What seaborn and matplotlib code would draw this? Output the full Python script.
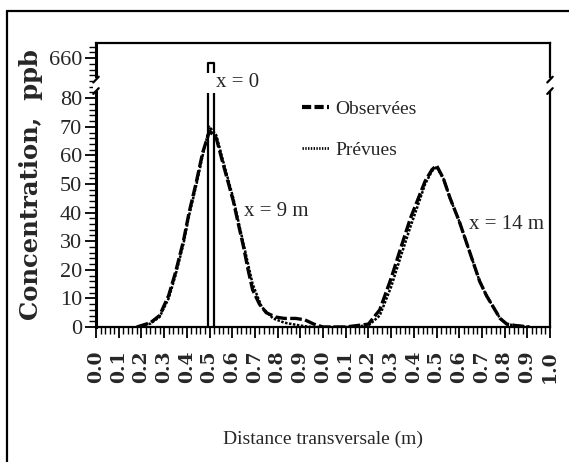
import numpy as np
import pandas as pd
import matplotlib
matplotlib.use("Agg")
import matplotlib.pyplot as plt
from matplotlib.lines import Line2D
from matplotlib.patches import Rectangle
from matplotlib.ticker import FixedLocator, MultipleLocator
import seaborn as sns

# ---------------- data ----------------
# position along the combined axis (1 unit = 0.1 m; 0-10 first panel, 10-20 second)
obs_x = [1.8, 2.4, 2.8, 3.2, 3.5, 3.85, 4.1, 4.4, 4.7, 5.0, 5.3, 5.6, 6.05, 6.3, 6.5, 6.7,
         6.9, 7.2, 7.5, 7.9, 8.3, 8.8, 9.2, 9.6, 10.0, 11.0, 11.5, 12.0, 12.5, 13.0, 13.4,
         13.85, 14.2, 14.5, 14.8, 15.0, 15.3, 15.6, 16.0, 16.3, 16.6, 16.9, 17.2, 17.5,
         17.8, 18.1, 18.5, 19.1]
obs_y = [0, 1.5, 4, 11, 19, 30, 40, 50, 61, 68.5, 66, 57, 44, 35, 28, 20,
         13, 8, 5, 3.5, 3, 3, 2.5, 1, 0, 0, 0.5, 1, 6, 17, 27,
         38, 45, 51, 55, 56.5, 52, 45, 37, 30, 23, 16, 11, 7,
         3, 1, 0.5, 0]
pred_x = [1.8, 2.4, 2.8, 3.2, 3.5, 3.85, 4.1, 4.4, 4.7, 5.0, 5.3, 5.6, 6.05, 6.3, 6.5, 6.7,
          6.9, 7.3, 7.8, 8.3, 9.0, 9.5, 10.0, 11.0, 12.0, 12.5, 13.0, 13.4, 13.85, 14.2,
          14.5, 14.8, 15.0, 15.3, 15.6, 16.0, 16.3, 16.6, 16.9, 17.2, 17.5, 17.8, 18.1,
          18.5, 19.1]
pred_y = [0, 1.2, 3.5, 10, 18, 29, 39, 49, 60, 70, 67, 58, 45, 36, 29, 22,
          15, 7, 3, 1.5, 0.5, 0, 0, 0, 0.5, 4, 14, 24, 35, 43,
          50, 54.5, 56, 52, 45, 37, 30, 23, 16, 11, 7, 3, 1,
          0.5, 0]
pulse_x = [4.93, 4.93, 5.22, 5.22]
pulse_y = [0, 92.3, 92.3, 0]

x_ticks = list(range(21))
x_labels = ["0.0", "0.1", "0.2", "0.3", "0.4", "0.5", "0.6", "0.7", "0.8", "0.9",
            "0.0", "0.1", "0.2", "0.3", "0.4", "0.5", "0.6", "0.7", "0.8", "0.9", "1.0"]
y_ticks = [0, 10, 20, 30, 40, 50, 60, 70, 80, 94]
y_labels = ["0", "10", "20", "30", "40", "50", "60", "70", "80", "660"]

# ---------------- style ----------------
sns.set_style("ticks")
plt.rcParams["font.family"] = ["Liberation Serif", "DejaVu Serif"]

fig = plt.figure(figsize=(5.69, 4.62), dpi=100)
ax = fig.add_axes([96 / 569, 1 - 327 / 462, (550 - 96) / 569, (327 - 43) / 462])

df_obs = pd.DataFrame({"x": obs_x, "y": obs_y})
df_pred = pd.DataFrame({"x": pred_x, "y": pred_y})
df_pulse = pd.DataFrame({"x": pulse_x, "y": pulse_y})

sns.lineplot(data=df_pred, x="x", y="y", ax=ax, color="black", linewidth=1.8,
             linestyle=(0, (1, 0.6)), sort=False, estimator=None)
sns.lineplot(data=df_obs, x="x", y="y", ax=ax, color="black", linewidth=2.4,
             linestyle=(0, (3.5, 1.0)), sort=False, estimator=None)
sns.lineplot(data=df_pulse, x="x", y="y", ax=ax, color="black", linewidth=1.6,
             sort=False, estimator=None)

ax.set_xlim(0, 20)
ax.set_ylim(0, 99.3)

# axis break band
ax.add_patch(Rectangle((4.6, 81.8), 0.9, 7.0, facecolor="white", edgecolor="none", zorder=5))

ax.xaxis.set_major_locator(FixedLocator(x_ticks))
ax.set_xticklabels(x_labels, rotation=90, family="DejaVu Serif", fontsize=13.5, weight="bold")
ax.xaxis.set_minor_locator(MultipleLocator(0.2))
ax.yaxis.set_major_locator(FixedLocator(y_ticks))
ax.set_yticklabels(y_labels, fontsize=16)
ax.yaxis.set_minor_locator(FixedLocator(list(np.arange(0, 99, 2.0))))

ax.tick_params(axis="both", which="major", direction="out", length=8, width=1.3, color="black")
ax.tick_params(axis="both", which="minor", direction="out", length=5, width=1.0, color="black")
ax.tick_params(axis="x", pad=9)
ax.tick_params(axis="y", pad=2)
for sp in ax.spines.values():
    sp.set_visible(True)
    sp.set_linewidth(1.6)
    sp.set_color("black")
ax.spines["left"].set_linewidth(2.2)

ax.set_xlabel("Distance transversale (m)", fontsize=14, labelpad=34)
ax.set_ylabel("Concentration,  ppb", family="DejaVu Serif", fontsize=17.5, weight="bold",
              labelpad=4)

# break marks on spines
for xb in (0, 20):
    ax.add_patch(Rectangle((xb - 0.15, 82.5), 0.3, 4.5, facecolor="white", edgecolor="none",
                           transform=ax.transData, clip_on=False, zorder=6))
    for yb in (82.5, 86.5):
        ax.plot([xb - 0.12, xb + 0.12], [yb - 1.0, yb + 1.0], color="black", lw=1.6,
                clip_on=False, zorder=7)

# annotations
ax.text(5.28, 85.5, "x = 0", fontsize=15, va="center", ha="left", zorder=10)
ax.text(6.5, 40.5, "x = 9 m", fontsize=15, va="center", ha="left", zorder=10)
ax.text(16.45, 36.0, "x = 14 m", fontsize=15, va="center", ha="left", zorder=10)

# legend
handles = [Line2D([], [], color="black", lw=3.0, linestyle=(0, (2.2, 0.8))),
           Line2D([], [], color="black", lw=2.0, linestyle=(0, (0.5, 0.5)))]
leg = ax.legend(handles, ["Observées", "Prévues"], loc="upper left",
                bbox_to_anchor=(0.415, 0.86), frameon=False, fontsize=14,
                handlelength=1.4, handletextpad=0.3, labelspacing=1.2)

# outer frame
fig.add_artist(Line2D([7 / 569, 7 / 569], [0, 1 - 11 / 462], color="black", lw=1.6,
                      transform=fig.transFigure))
fig.add_artist(Line2D([7 / 569, 1], [1 - 11 / 462, 1 - 11 / 462], color="black", lw=1.6,
                      transform=fig.transFigure))

fig.savefig("out.png", dpi=100)
